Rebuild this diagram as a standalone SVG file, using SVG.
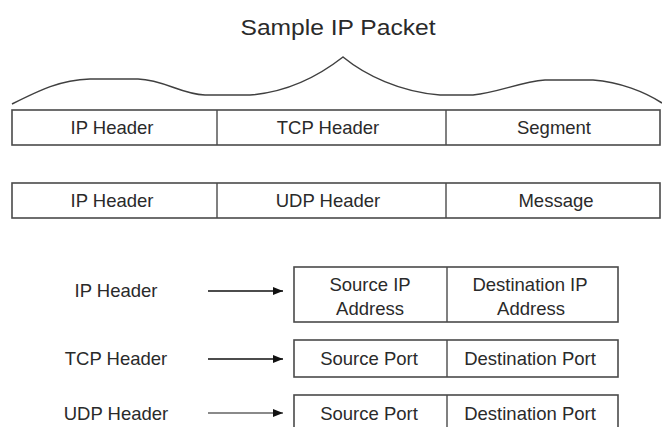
<svg xmlns="http://www.w3.org/2000/svg" width="662" height="427" viewBox="0 0 662 427">
  <style>
    text { font-family: "Liberation Sans", Arial, sans-serif; fill: #2a2a2a; text-anchor: middle; }
    .lbl { font-size: 18.5px; }
    .title { font-size: 22px; }
    .box { fill: #ffffff; stroke: #4a4a4a; stroke-width: 1.6; }
    .div { stroke: #4a4a4a; stroke-width: 1.4; }
    .brace { fill: none; stroke: #404040; stroke-width: 1.5; }
    .arrow { stroke: #111; stroke-width: 1.6; }
    .arrow-light { stroke: #8a8a8a; stroke-width: 2; }
  </style>
  <defs>
    <marker id="head" viewBox="0 0 10 8" refX="10" refY="4" markerWidth="10" markerHeight="8" markerUnits="userSpaceOnUse" orient="auto">
      <path d="M0,0 L10,4 L0,8 z" fill="#111"/>
    </marker>
  </defs>

  <rect width="662" height="427" fill="#ffffff"/>

  <!-- title and the brace spanning the packet -->
  <g id="title">
    <text class="title" x="338" y="35" textLength="195" lengthAdjust="spacingAndGlyphs">Sample IP Packet</text>
    <path class="brace" d="M12,104 C40,90 60,80 90,79 L138,79 C165,80 180,94 205,95 L250,95 C290,92 320,75 343,57 C365,75 400,92 440,95 L473,95 C500,92 520,82 545,80 L593,80 C620,82 645,92 662,103"/>
  </g>

  <!-- TCP packet layout -->
  <g id="tcp-packet">
    <rect class="box" x="12" y="110" width="648" height="35"/>
    <line class="div" x1="217" y1="110" x2="217" y2="145"/>
    <line class="div" x1="446" y1="110" x2="446" y2="145"/>
    <text class="lbl" x="112" y="134">IP Header</text>
    <text class="lbl" x="328" y="134">TCP Header</text>
    <text class="lbl" x="554" y="134">Segment</text>
  </g>

  <!-- UDP packet layout -->
  <g id="udp-packet">
    <rect class="box" x="12" y="183" width="648" height="35"/>
    <line class="div" x1="217" y1="183" x2="217" y2="218"/>
    <line class="div" x1="446" y1="183" x2="446" y2="218"/>
    <text class="lbl" x="112" y="207">IP Header</text>
    <text class="lbl" x="328" y="207">UDP Header</text>
    <text class="lbl" x="556" y="207">Message</text>
  </g>

  <!-- header labels -->
  <g id="ip-label"><text class="lbl" x="116" y="297">IP Header</text></g>
  <g id="tcp-label"><text class="lbl" x="116" y="365">TCP Header</text></g>
  <g id="udp-label"><text class="lbl" x="116" y="420">UDP Header</text></g>

  <!-- IP header fields -->
  <g id="ip-fields">
    <rect class="box" x="294" y="267" width="324" height="55"/>
    <line class="div" x1="447" y1="267" x2="447" y2="322"/>
    <text class="lbl" x="370" y="291">Source IP</text>
    <text class="lbl" x="370" y="315">Address</text>
    <text class="lbl" x="530" y="291">Destination IP</text>
    <text class="lbl" x="531" y="315">Address</text>
  </g>

  <!-- TCP header fields -->
  <g id="tcp-fields">
    <rect class="box" x="294" y="340" width="324" height="37"/>
    <line class="div" x1="447" y1="340" x2="447" y2="377"/>
    <text class="lbl" x="369" y="365">Source Port</text>
    <text class="lbl" x="530" y="365">Destination Port</text>
  </g>

  <!-- UDP header fields -->
  <g id="udp-fields">
    <rect class="box" x="294" y="395" width="324" height="40"/>
    <line class="div" x1="447" y1="395" x2="447" y2="435"/>
    <text class="lbl" x="369" y="420">Source Port</text>
    <text class="lbl" x="530" y="420">Destination Port</text>
  </g>

  <!-- connectors -->
  <g id="connectors">
    <line class="arrow" x1="208" y1="291" x2="283" y2="291" marker-end="url(#head)"/>
    <line class="arrow" x1="208" y1="359" x2="283" y2="359" marker-end="url(#head)"/>
    <line class="arrow-light" x1="208" y1="413" x2="283" y2="413" marker-end="url(#head)"/>
  </g>
</svg>
